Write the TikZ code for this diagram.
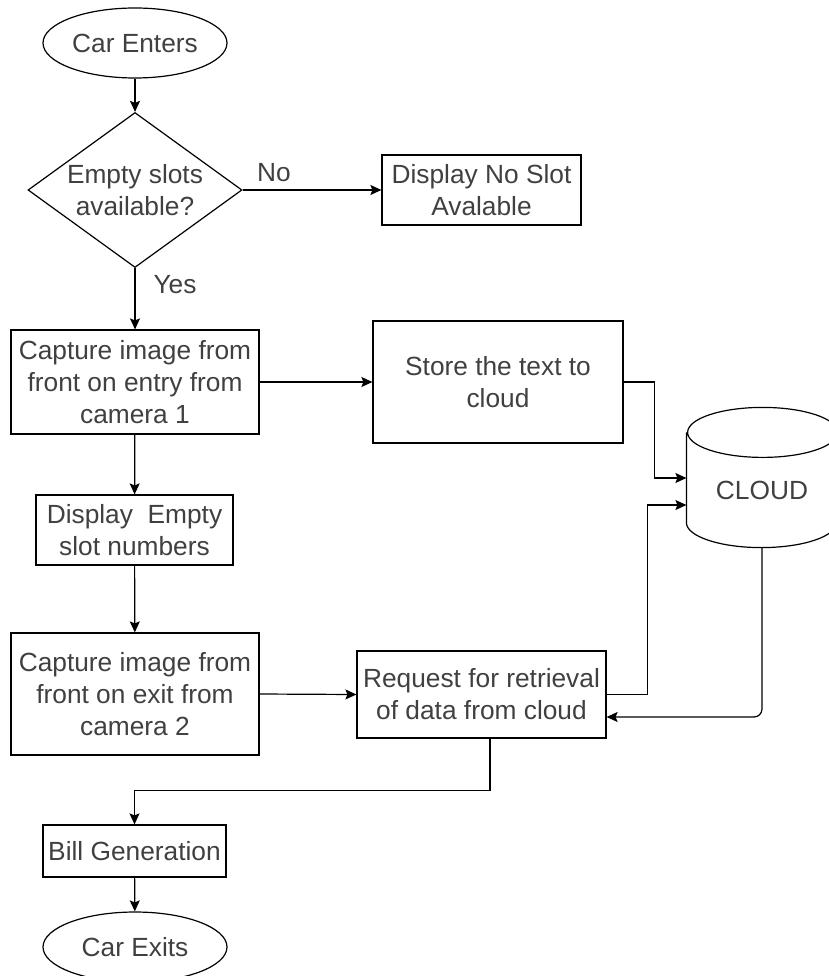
\documentclass[tikz,border=0pt]{standalone}
\usepackage{fontspec}
\setmainfont{Liberation Sans}
\usetikzlibrary{shapes.geometric,arrows.meta}

\begin{document}
\begin{tikzpicture}[x=1pt,y=-1pt,line width=1.2pt,
	every node/.style={font=\fontsize{26.3}{32}\selectfont,text=black!75,align=center,inner sep=0pt},
	arr/.style={-{Stealth[length=11pt,width=10pt,inset=2pt]}},
	box/.style={draw,rectangle},
	term/.style={draw,ellipse,minimum width=184pt,minimum height=70pt},
	decision/.style={draw,diamond,shape aspect=1.38,minimum width=214pt,minimum height=155pt}]
	\useasboundingbox (0,0) rectangle (828,976);

	\node[term] (enter) at (135,43) {Car Enters};
	\node[decision] (check) at (135,190) {Empty slots\\available?};
	\node[box,minimum width=199pt,minimum height=70pt] (noslot) at (481.5,190) {Display No Slot\\Avalable};
	\node[box,minimum width=248pt,minimum height=104pt] (cap1) at (135,382) {Capture image from\\front on entry from\\camera 1};
	\node[box,minimum width=250pt,minimum height=122pt] (store) at (498,382) {Store the text to\\cloud};
	\node[minimum width=150pt,minimum height=114pt] (cloud) at (762,490) {CLOUD};
	\node[box,minimum width=197pt,minimum height=70pt] (dispempty) at (134.5,530) {Display~~Empty\\slot numbers};
	\node[box,minimum width=248pt,minimum height=122pt] (cap2) at (135,694) {Capture image from\\front on exit from\\camera 2};
	\node[box,minimum width=249pt,minimum height=87pt] (request) at (481.5,694.5) {Request for retrieval\\of data from cloud};
	\node[box,minimum width=183pt,minimum height=52pt] (bill) at (134.5,851) {Bill Generation};
	\node[term] (exit) at (135,947) {Car Exits};

	\node (no) at (274,173) {No};
	\node (yes) at (175,285) {Yes};

	\draw (cloud.north west) -- ([yshift=25pt]cloud.south west)
		arc[start angle=180,end angle=360,x radius=75pt,y radius=25pt] -- (cloud.north east)
		arc[start angle=0,end angle=360,x radius=75pt,y radius=25pt];

	\draw[arr] (enter) -- (check);
	\draw[arr] (check.east) -- (noslot.west);
	\draw[arr] (check.south) -- (cap1.north);
	\draw[arr] (cap1.east) -- (store.west);
	\draw[arr] (store.east) -- ++(31,0) |- ([yshift=12pt]cloud.west);
	\draw[arr] (cap1) -- (dispempty);
	\draw[arr] (dispempty) -- (cap2);
	\draw[arr] (cap2.east) -- (request.west);
	\draw[arr] (request.east) -- ++(41,0) |- ([yshift=-15pt]cloud.west);
	\draw[arr,rounded corners=8pt] (cloud.south) |- ([yshift=-22.5pt]request.east);
	\draw[arr] ([xshift=8.5pt]request.south) -- ++(0,52) -| (bill.north);
	\draw[arr] (bill) -- (exit);
\end{tikzpicture}
\end{document}
